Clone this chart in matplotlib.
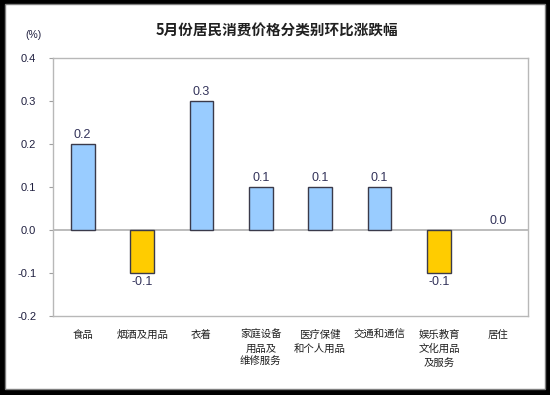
import matplotlib
matplotlib.use("Agg")
import matplotlib.pyplot as plt
from matplotlib.patches import Rectangle

plt.rcParams['font.family'] = ['Noto Sans CJK SC', 'DejaVu Sans']

title = "5月份居民消费价格分类别环比涨跌幅"
categories = ["食品", "烟酒及用品", "衣着", "家庭设备\n用品及\n维修服务",
              "医疗保健\n和个人用品", "交通和通信", "娱乐教育\n文化用品\n及服务", "居住"]
values = [0.2, -0.1, 0.3, 0.1, 0.1, 0.1, -0.1, 0.0]
value_labels = ["0.2", "-0.1", "0.3", "0.1", "0.1", "0.1", "-0.1", "0.0"]
yticks = [-0.2, -0.1, 0.0, 0.1, 0.2, 0.3, 0.4]
ytick_labels = ["-0.2", "-0.1", "0.0", "0.1", "0.2", "0.3", "0.4"]

W, H = 550, 395
fig = plt.figure(figsize=(W / 100, H / 100), dpi=100)
fig.patch.set_facecolor("black")
fig.add_artist(Rectangle((5 / W, 1 - 389 / H), 540 / W, 385 / H, transform=fig.transFigure,
                         facecolor="white", edgecolor="#808080", linewidth=1.0, zorder=0))

ax = fig.add_axes([53 / W, 1 - 316 / H, 475 / W, 258 / H])
ax.set_facecolor("white")

x = list(range(len(values)))
colors = ["#99CCFF" if v >= 0 else "#FFCC00" for v in values]
edges = ["none" if v == 0 else "#3a3a4a" for v in values]
ax.bar(x, values, width=0.40, color=colors, edgecolor=edges, linewidth=1.0, zorder=3)

for xi, v, lab in zip(x, values, value_labels):
    if v >= 0:
        ax.text(xi, v + 0.006, lab, ha="center", va="bottom", fontsize=9,
                color="#33335a", family="Liberation Sans", zorder=4)
    else:
        ax.text(xi, v - 0.006, lab, ha="center", va="top", fontsize=9,
                color="#33335a", family="Liberation Sans", zorder=4)

ax.axhline(0, color="#b0b0b0", linewidth=1.2, zorder=2)
ax.set_xlim(-0.5, len(values) - 0.5)
ax.set_ylim(-0.2, 0.4)
ax.set_yticks(yticks)
ax.set_yticklabels(ytick_labels, family="Liberation Sans", fontsize=8, color="#202040")
ax.tick_params(axis="y", length=3, width=0.8, color="#a0a0a0", pad=9)
ax.set_xticks(x)
ax.set_xticklabels(categories, fontsize=7.5, color="#202020", linespacing=1.45, va="top")
ax.tick_params(axis="x", length=0, pad=10)

for s in ax.spines.values():
    s.set_color("#b8b8b8")
    s.set_linewidth(1.0)

fig.text(277 / W, 1 - 31 / H, title, ha="center", va="center", fontsize=10.5,
         fontweight="bold", color="#202020")
fig.text(34 / W, 1 - 35 / H, "(%)", ha="center", va="center", fontsize=7.5,
         family="Liberation Sans", color="#202040")

fig.savefig("out.png", dpi=100, facecolor=fig.get_facecolor())
